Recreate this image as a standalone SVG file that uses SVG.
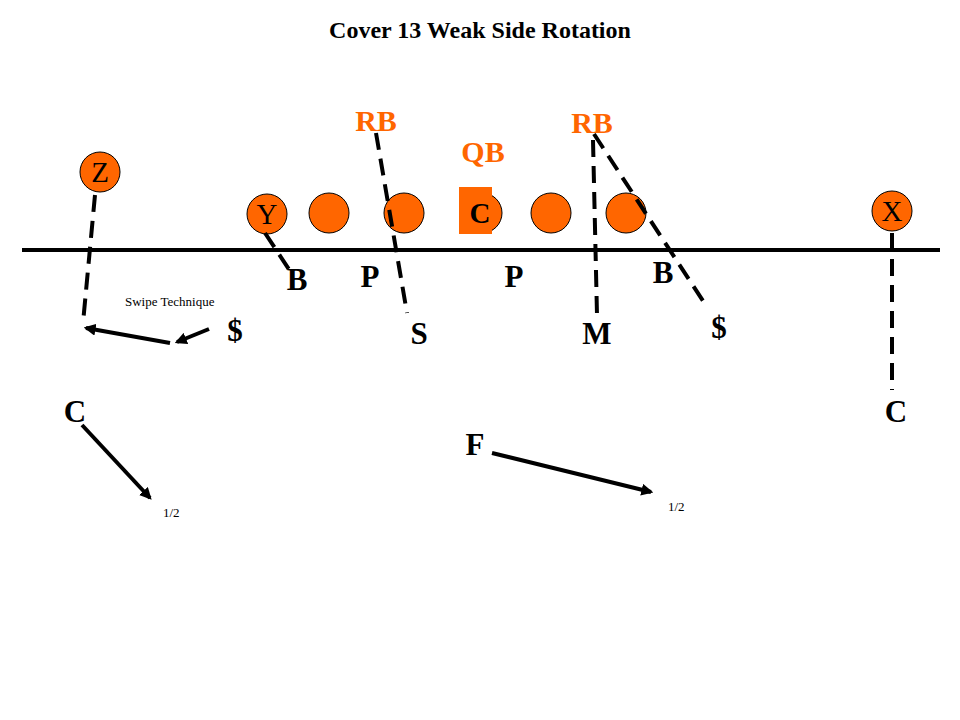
<svg xmlns="http://www.w3.org/2000/svg" width="960" height="720" viewBox="0 0 960 720">
<defs>
<style>
.t{font-family:"Liberation Serif","Times New Roman",serif;fill:#000;text-anchor:middle}
.big{font-size:31px;font-weight:bold}
.or{font-size:30px;font-weight:bold;fill:#FF6600}
.cl{font-size:29px}
.sm{font-size:13px;font-family:"Liberation Serif","Times New Roman",serif;fill:#000}
.pl{fill:#FF6600;stroke:#000;stroke-width:1}
.dash{stroke:#000;stroke-width:4;stroke-dasharray:17 9;fill:none}
.sol{stroke:#000;stroke-width:4;fill:none}
</style>
<marker id="ah" viewBox="0 0 10 10" refX="8" refY="5" markerWidth="3" markerHeight="3" orient="auto" markerUnits="strokeWidth">
<path d="M0,0 L10,5 L0,10 z" fill="#000"/>
</marker>
</defs>
<rect width="960" height="720" fill="#fff"/>
<text class="t" x="480" y="38" style="font-size:24px;font-weight:bold">Cover 13 Weak Side Rotation</text>
<g id="los"><line x1="22" y1="250" x2="940" y2="250" stroke="#000" stroke-width="4"/></g>
<g id="offense">
<g id="Z"><circle class="pl" cx="100" cy="172" r="20"/><text class="t cl" x="100" y="182">Z</text></g>
<g id="Y"><circle class="pl" cx="267" cy="214" r="20"/><text class="t cl" x="267" y="224">Y</text></g>
<g id="LT"><circle class="pl" cx="329" cy="213" r="20"/></g>
<g id="LG"><circle class="pl" cx="404" cy="213" r="20"/></g>
<g id="Cn"><circle class="pl" cx="482" cy="213" r="20"/><rect x="459" y="187" width="33" height="47" fill="#FF6600"/><text class="t big" x="480" y="223" style="font-size:29px">C</text></g>
<g id="RG"><circle class="pl" cx="551" cy="213" r="20"/></g>
<g id="RT"><circle class="pl" cx="626" cy="213" r="20"/></g>
<g id="X"><circle class="pl" cx="892" cy="211" r="20"/><text class="t cl" x="892" y="221">X</text></g>
<g id="RB1"><text class="t or" x="376" y="131">RB</text></g>
<g id="RB2"><text class="t or" x="592" y="133">RB</text></g>
<g id="QB"><text class="t or" x="483" y="162">QB</text></g>
</g>
<g id="connectors">
<line class="dash" x1="95" y1="195" x2="83" y2="323"/>
<line class="sol" x1="170" y1="343" x2="86" y2="328" marker-end="url(#ah)"/>
<line class="sol" x1="209" y1="329" x2="177" y2="342" marker-end="url(#ah)"/>
<line class="dash" x1="265" y1="233" x2="290" y2="271"/>
<line class="dash" x1="376" y1="133" x2="407" y2="313"/>
<line class="dash" x1="593" y1="140" x2="597" y2="315"/>
<line class="dash" x1="594" y1="134" x2="707" y2="307"/>
<line class="dash" x1="892" y1="233" x2="892" y2="390"/>
<line class="sol" x1="82" y1="425" x2="150" y2="498" marker-end="url(#ah)"/>
<line class="sol" x1="492" y1="453" x2="651" y2="492" marker-end="url(#ah)"/>
</g>
<g id="defense">
<g id="B1"><text class="t big" x="297" y="290">B</text></g>
<g id="P1"><text class="t big" x="370" y="287">P</text></g>
<g id="P2"><text class="t big" x="514" y="287">P</text></g>
<g id="B2"><text class="t big" x="663" y="283">B</text></g>
<g id="D1"><text class="t big" x="235" y="341">$</text></g>
<g id="S"><text class="t big" x="419" y="344">S</text></g>
<g id="M"><text class="t big" x="597" y="344">M</text></g>
<g id="D2"><text class="t big" x="719" y="338">$</text></g>
<g id="C1"><text class="t big" x="75" y="422">C</text></g>
<g id="C2"><text class="t big" x="896" y="422">C</text></g>
<g id="F"><text class="t big" x="475" y="455">F</text></g>
</g>
<text class="sm" x="125" y="306">Swipe  Technique</text>
<text class="sm" x="163" y="517">1/2</text>
<text class="sm" x="668" y="511">1/2</text>
</svg>
